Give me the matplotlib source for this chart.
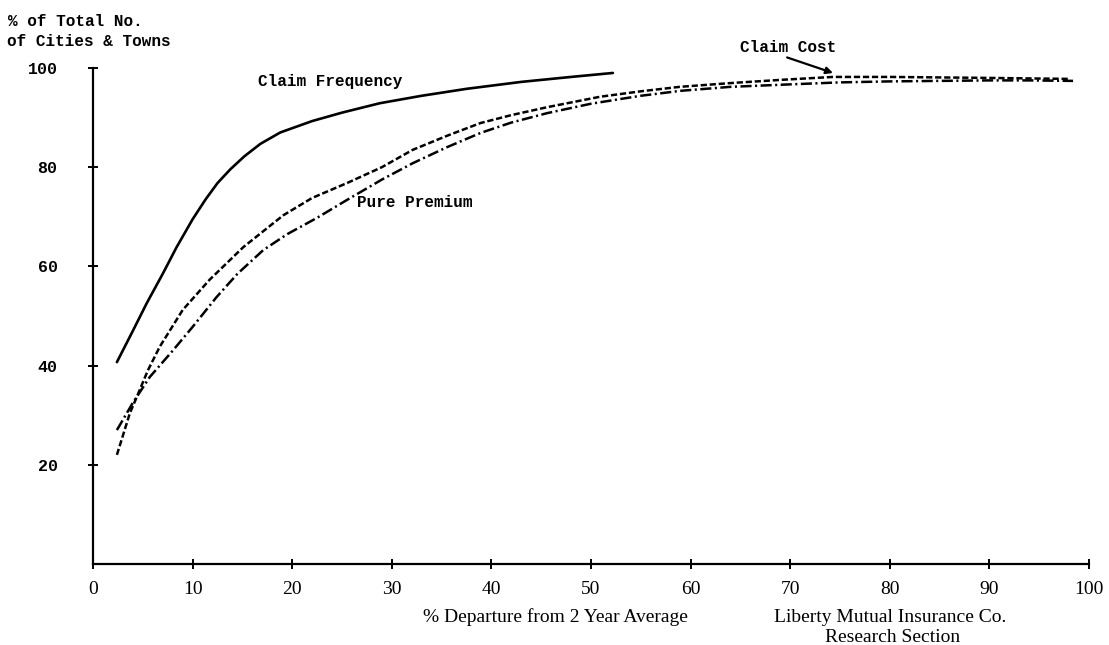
import matplotlib
matplotlib.use("Agg")
import matplotlib.pyplot as plt

# values
freq_x = [2.4, 4, 5.4, 7, 8.4, 10, 11.3, 12.5, 13.8, 15.2, 16.8, 18.8, 22, 25, 28.8, 33, 37.5, 43, 48, 52.2]
freq_y = [40.7, 47, 52.6, 58.5, 63.9, 69.5, 73.5, 76.8, 79.6, 82.2, 84.7, 87.0, 89.3, 91, 92.9, 94.4, 95.8, 97.2, 98.2, 99]

cost_x = [2.4, 3.7, 4.4, 5.5, 6.7, 9, 11.7, 15.1, 19.1, 22, 25.5, 29, 32.1, 35.5, 38.9, 42, 45.6,
          50.9, 55, 58.9, 64.3, 69, 74.3, 80, 85, 90, 94, 98.1]
cost_y = [22, 30.4, 33.7, 39, 43.8, 51.2, 57.3, 63.9, 70.3, 73.8, 76.8, 80, 83.5, 86.3, 88.9, 90.5, 92.1,
          94.2, 95.3, 96.2, 97, 97.6, 98.2, 98.2, 98.1, 98, 97.9, 97.8]

prem_x = [2.4, 4.0, 5.7, 8, 10, 12.4, 14.5, 17.1, 19.5, 22.5, 25.5, 29, 32.1, 35.5, 38.9, 42, 45.6,
          50, 55, 59, 64, 70, 75, 80, 85, 90, 94, 98.4]
prem_y = [27, 32.5, 37.7, 43, 47.8, 53.8, 58.5, 63.3, 66.5, 69.8, 73.4, 77.5, 80.8, 84, 86.9, 89, 90.9,
          92.8, 94.4, 95.4, 96.2, 96.7, 97.1, 97.3, 97.4, 97.5, 97.5, 97.4]

x_ticks = [0, 10, 20, 30, 40, 50, 60, 70, 80, 90, 100]
y_ticks = [20, 40, 60, 80, 100]

plt.rcParams['lines.scale_dashes'] = False
mono = "Liberation Mono"
serif = "Liberation Serif"

W, H = 1109, 645
fig = plt.figure(figsize=(W / 100, H / 100), dpi=100)
ax = fig.add_axes([93 / W, (H - 564) / H, (1089 - 93) / W, (564 - 68) / H])

ax.plot(freq_x, freq_y, color="black", lw=1.9, solid_capstyle="round")
ax.plot(cost_x, cost_y, color="black", lw=1.8, dashes=(4.5, 2))
ax.plot(prem_x, prem_y, color="black", lw=1.8, dashes=(8, 2.5, 1.5, 2.5))

ax.set_xlim(0, 100)
ax.set_ylim(0, 100)
for s in ["top", "right"]:
    ax.spines[s].set_visible(False)
for s in ["left", "bottom"]:
    ax.spines[s].set_linewidth(1.6)

ax.set_xticks(x_ticks)
ax.set_xticklabels([str(v) for v in x_ticks], fontfamily=serif, fontsize=14)
ax.set_yticks(y_ticks)
ax.set_yticklabels([str(v) for v in y_ticks], fontfamily=mono, fontweight="bold", fontsize=12)
ax.tick_params(axis="x", direction="inout", length=7, width=1.4, pad=9)
ax.tick_params(axis="y", direction="inout", length=7, width=1.4, pad=22)

ax.text(16.6, 97.2, "Claim Frequency", fontfamily=mono, fontweight="bold", fontsize=11.5,
        va="center", ha="left")
ax.text(26.5, 72.8, "Pure Premium", fontfamily=mono, fontweight="bold", fontsize=11.5,
        va="center", ha="left")
ax.annotate("Claim Cost", xy=(74.3, 99.0), xytext=(65.0, 104.2), fontfamily=mono,
            fontweight="bold", fontsize=11.5, va="center", ha="left", annotation_clip=False,
            arrowprops=dict(arrowstyle="-|>", color="black", lw=1.6, mutation_scale=10,
                            shrinkA=0, shrinkB=0, relpos=(0.4, 0.0)))

fig.text(8 / W, 1 - 22 / H, "% of Total No.", fontfamily=mono, fontweight="bold", fontsize=11.5,
         va="center", ha="left")
fig.text(7 / W, 1 - 42 / H, "of Cities & Towns", fontfamily=mono, fontweight="bold", fontsize=11.5,
         va="center", ha="left")

fig.text(555 / W, 1 - 617 / H, "% Departure from 2 Year Average", fontfamily=serif, fontsize=14,
         va="center", ha="center")
fig.text(890 / W, 1 - 617 / H, "Liberty Mutual Insurance Co.", fontfamily=serif, fontsize=14,
         va="center", ha="center")
fig.text(893 / W, 1 - 638 / H, "Research Section", fontfamily=serif, fontsize=14,
         va="center", ha="center")

fig.savefig("out.png", dpi=100, facecolor="white")
